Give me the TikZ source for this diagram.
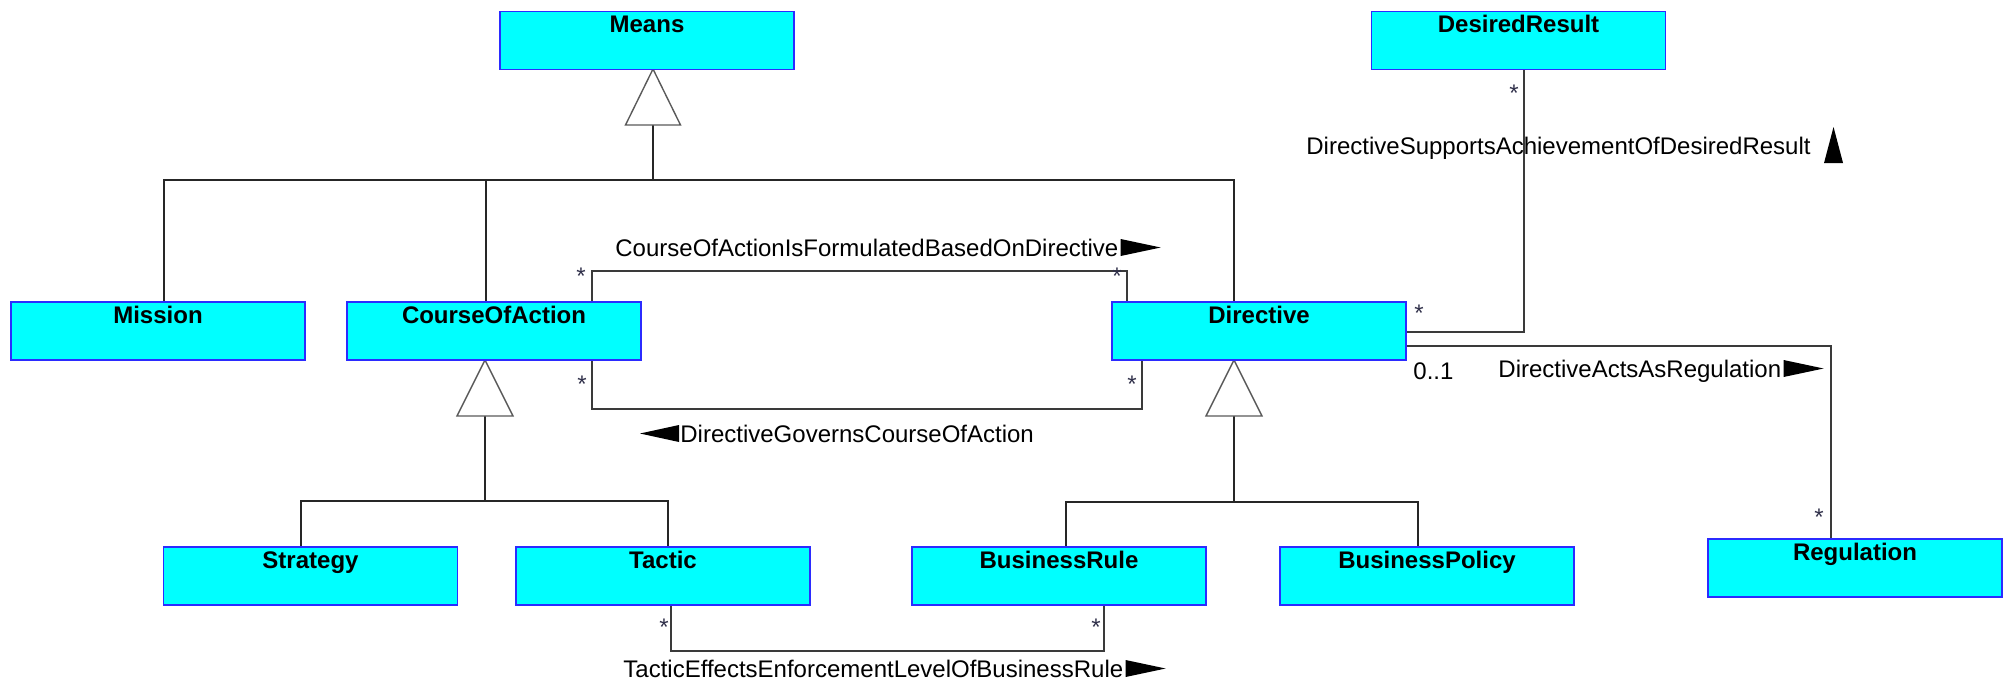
\documentclass[tikz,border=0pt]{standalone}
\usepackage{fontspec}
\setmainfont{Liberation Sans}
\definecolor{boxfill}{HTML}{00FFFF}
\definecolor{boxedge}{HTML}{2B2BFF}
\definecolor{wire}{HTML}{3A3A3A}
\definecolor{triedge}{HTML}{5A5A5A}
\definecolor{mult}{HTML}{30304A}

% filled direction marks next to association names
\newcommand\dirRight[1]{\fill[black] (#1) ++(2,-17) -- ++(40,8.5) -- ++(-40,8.5) -- cycle;}
\newcommand\dirLeft[1]{\fill[black] (#1) ++(-1,0) -- ++(0,-17) -- ++(-39,8.5) -- cycle;}
\newcommand\dirUp[1]{\fill[black] (#1) ++(13,9) -- ++(19,0) -- ++(-9.5,-36) -- cycle;}

\begin{document}
\begin{tikzpicture}[x=0.5pt,y=-0.5pt,
  cls/.style={draw=boxedge, fill=boxfill, line width=0.8pt, inner sep=0pt,
    minimum width=147pt, text height=10.5pt, text depth=18.5pt,
    font=\fontsize{12}{14}\selectfont\bfseries},
  wire/.style={draw=wire, line width=0.7pt},
  genline/.style={draw=black!85, line width=0.7pt},
  gen/.style={draw=triedge, fill=white, line width=0.7pt, line join=miter},
  assoc/.style={inner sep=0pt, font=\fontsize{12}{14}\selectfont},
  multi/.style={inner sep=0pt, anchor=base, text=mult, font=\fontsize{12}{14}\selectfont}]
\useasboundingbox (0,0) rectangle (2011,680);

% ---- associations ----
\draw[wire] (592,302) -- (592,271) -| (1127,302);
\draw[wire] (592,360) -- (592,409) -| (1142,360);
\draw[wire] (1406,332) -| (1524,69);
\draw[wire] (1406,346) -| (1831,539);
\draw[wire] (671,605) -- (671,651) -| (1104,605);

% ---- generalization trees ----
\coordinate (footM) at (653,125);
\coordinate (footC) at (485,416);
\coordinate (footD) at (1234,416);
\draw[genline] (footM) -- (653,180);
\draw[genline] (164,302) |- (653,180) -| (1234,302);
\draw[genline] (486,180) -- (486,302);
\draw[genline] (footC) -- (485,501);
\draw[genline] (301,547) |- (485,501) -| (668,547);
\draw[genline] (footD) -- (1234,502);
\draw[genline] (1066,547) |- (1234,502) -| (1418,547);

\draw[gen] (653,69) -- ([xshift=-13.75pt]footM) -- ([xshift=13.75pt]footM) -- cycle;
\draw[gen] (485,360) -- ([xshift=-14pt]footC) -- ([xshift=14pt]footC) -- cycle;
\draw[gen] (1234,360) -- ([xshift=-14pt]footD) -- ([xshift=14pt]footD) -- cycle;

% ---- classes ----
\node[cls] (means)      at (647,40.5)  {Means};
\node[cls] (desired)    at (1518.5,40.5) {DesiredResult};
\node[cls] (mission)    at (158,331)   {Mission};
\node[cls] (coa)        at (494,331)   {CourseOfAction};
\node[cls] (directive)  at (1259,331)  {Directive};
\node[cls] (strategy)   at (310.5,576) {Strategy};
\node[cls] (tactic)     at (663,576)   {Tactic};
\node[cls] (brule)      at (1059,576)  {BusinessRule};
\node[cls] (bpolicy)    at (1427,576)  {BusinessPolicy};
\node[cls] (regulation) at (1855,568)  {Regulation};

% ---- association names ----
\node[assoc, anchor=base west] (nFormulated) at (615,256) {CourseOfActionIsFormulatedBasedOnDirective};
\dirRight{nFormulated.base east}
\node[assoc, anchor=base west] (nGoverns) at (680,442) {DirectiveGovernsCourseOfAction};
\dirLeft{nGoverns.base west}
\node[assoc, anchor=base west] (nEffects) at (623,677) {TacticEffectsEnforcementLevelOfBusinessRule};
\dirRight{nEffects.base east}
\node[assoc, anchor=base west] (nSupports) at (1306,154) {DirectiveSupportsAchievementOfDesiredResult};
\dirUp{nSupports.base east}
\node[assoc, anchor=base west] (nActs) at (1498,377) {DirectiveActsAsRegulation};
\dirRight{nActs.base east}

% ---- multiplicities ----
\node[assoc, anchor=base west] (m01) at (1413,379) {0..1};
\node[multi] (s1) at (581,284) {*};
\node[multi] (s2) at (1117,284) {*};
\node[multi] (s3) at (582,392) {*};
\node[multi] (s4) at (1132,392) {*};
\node[multi] (s5) at (1514,101) {*};
\node[multi] (s6) at (1419,321) {*};
\node[multi] (s7) at (1819,525) {*};
\node[multi] (s8) at (664,635) {*};
\node[multi] (s9) at (1096,635) {*};
\end{tikzpicture}
\end{document}
